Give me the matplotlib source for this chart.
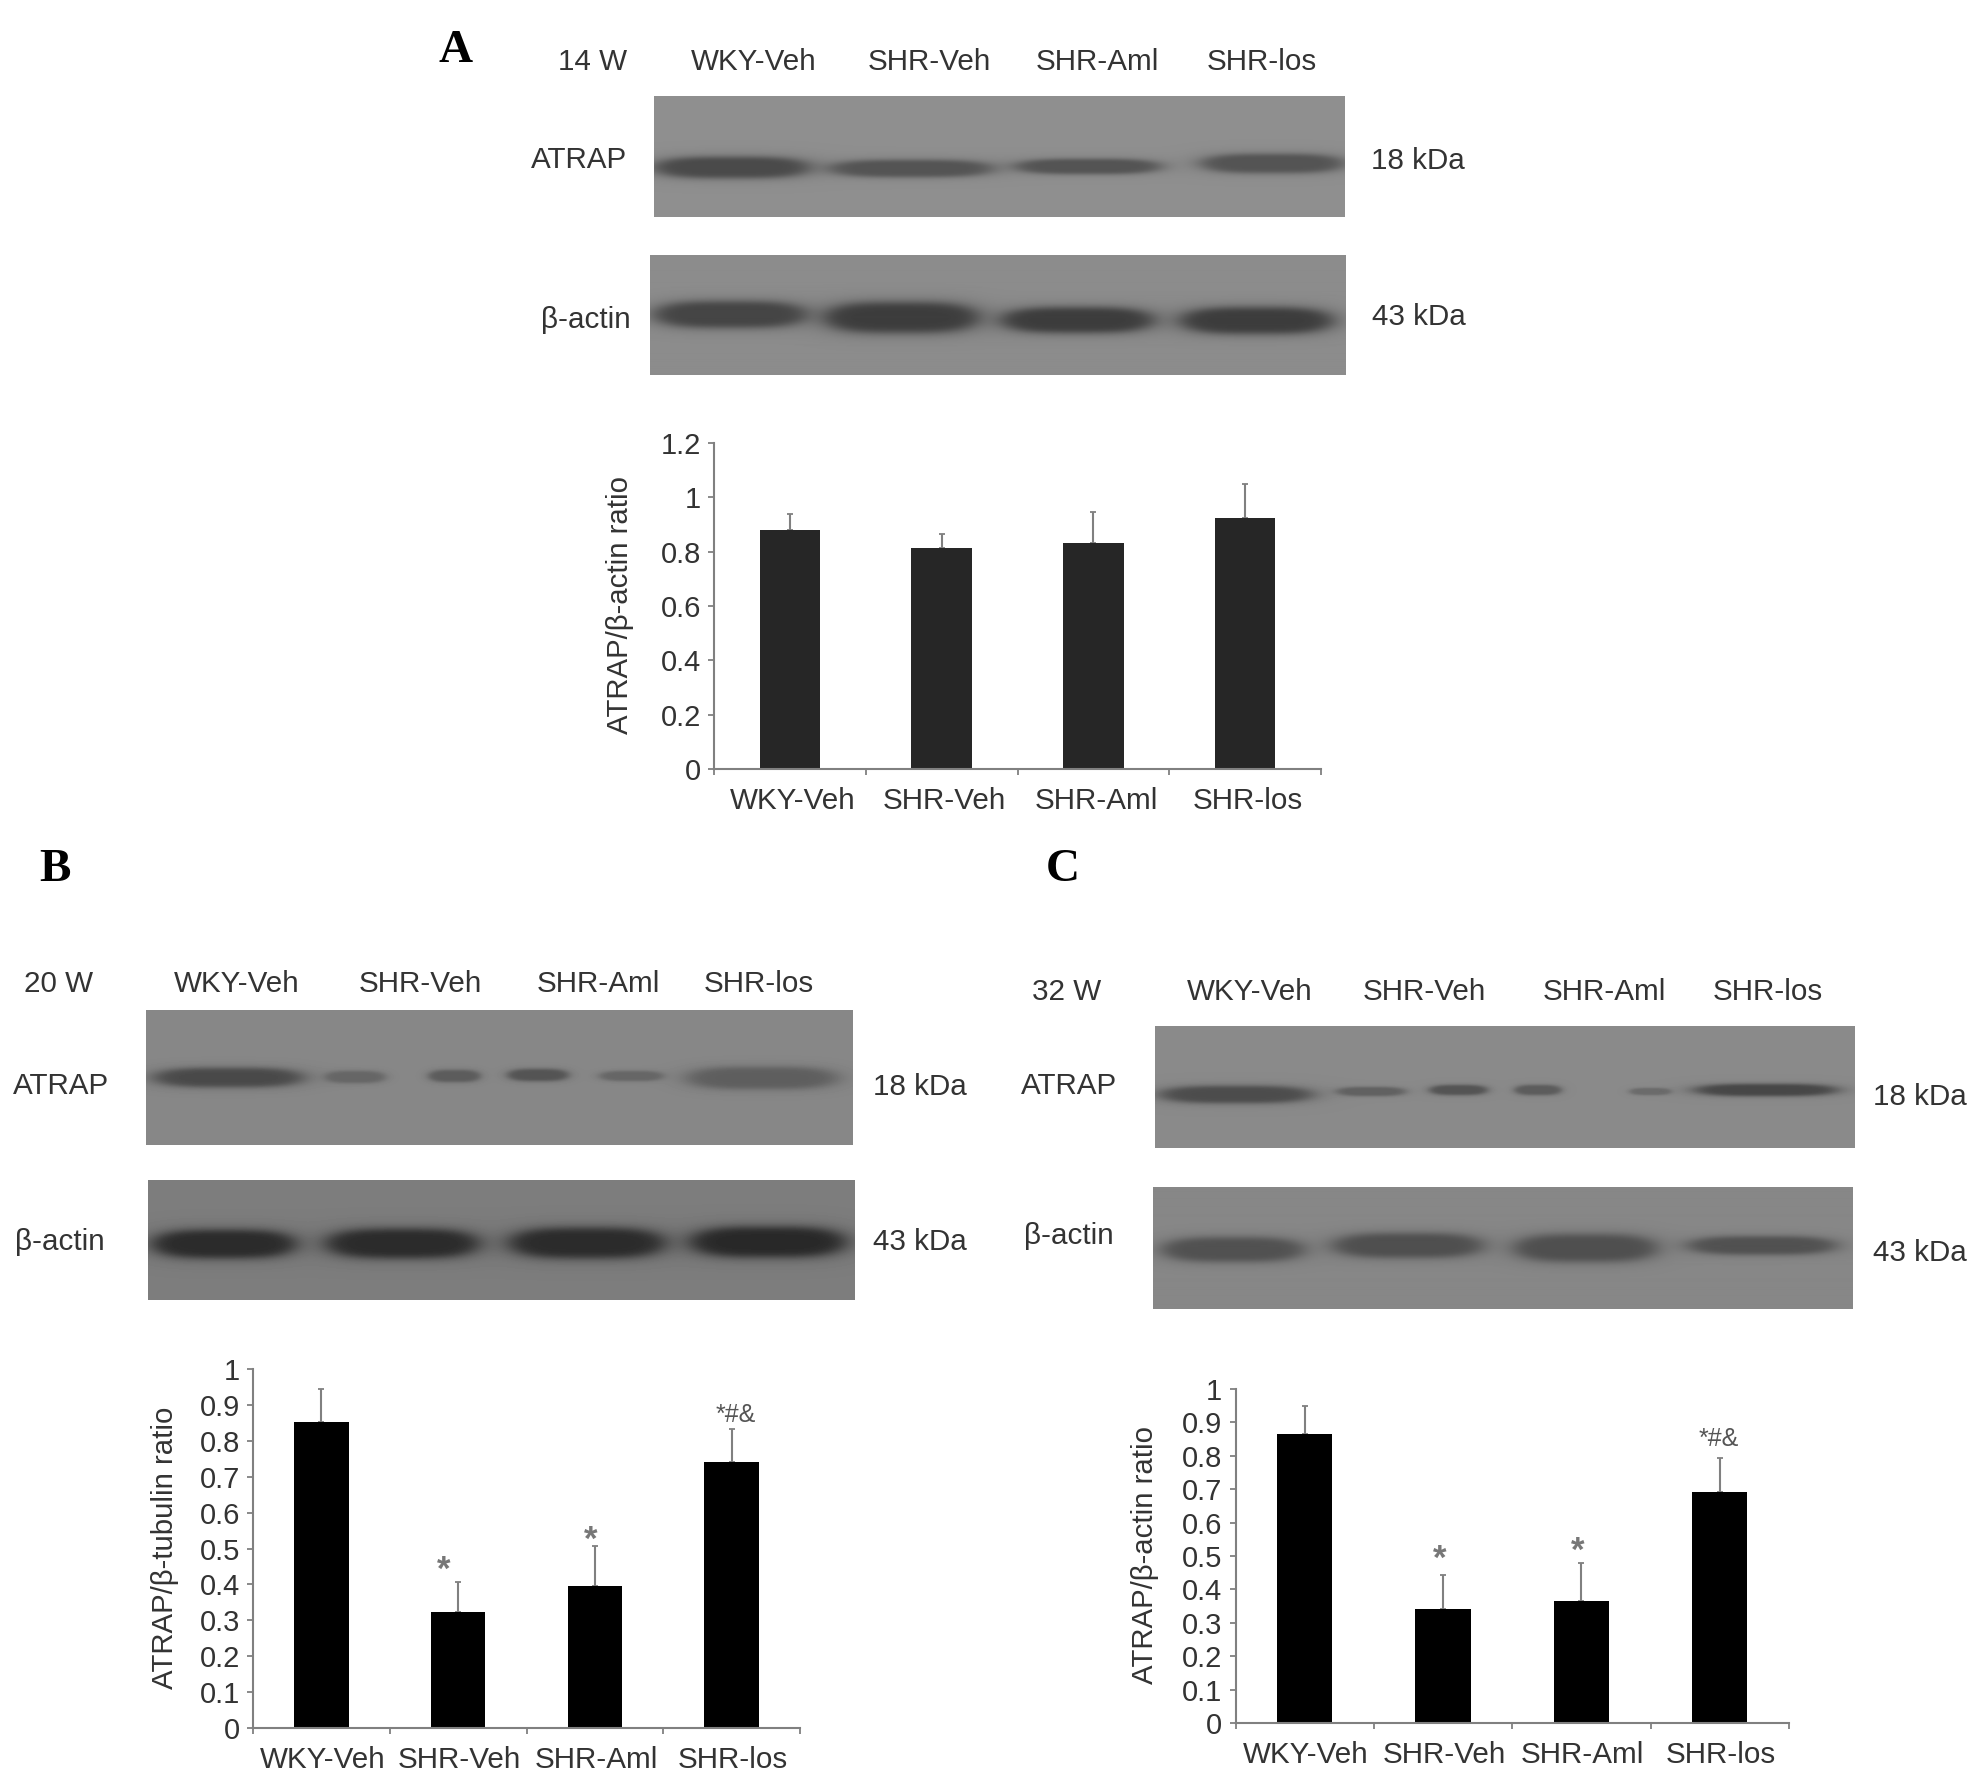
import numpy as np
import matplotlib
matplotlib.use("Agg")
import matplotlib.pyplot as plt
from matplotlib.transforms import ScaledTranslation

W, H = 1978, 1779
plt.rcParams['font.family'] = ['Liberation Sans', 'DejaVu Sans']

groups = ["WKY-Veh", "SHR-Veh", "SHR-Aml", "SHR-los"]

# bar values and upper error
ratio_a = [0.878, 0.813, 0.833, 0.924]
err_a = [0.062, 0.051, 0.112, 0.124]
ratio_b = [0.853, 0.323, 0.396, 0.741]
err_b = [0.092, 0.084, 0.111, 0.093]
ratio_c = [0.865, 0.342, 0.366, 0.691]
err_c = [0.085, 0.102, 0.112, 0.103]

ticks_a = [0, 0.2, 0.4, 0.6, 0.8, 1, 1.2]
ticks_bc = [0, 0.1, 0.2, 0.3, 0.4, 0.5, 0.6, 0.7, 0.8, 0.9, 1]
tick_text_a = ["0", "0.2", "0.4", "0.6", "0.8", "1", "1.2"]
tick_text_bc = ["0", "0.1", "0.2", "0.3", "0.4", "0.5", "0.6", "0.7", "0.8", "0.9", "1"]

# gel bands: x0, x1, y0, y1 (full size pixels), grey level
bands_a_atrap = [(655, 809, 157, 178, 0.29), (830, 992, 160, 177, 0.33),
                 (1016, 1160, 159, 174, 0.33), (1202, 1343, 154, 173, 0.33)]
bands_a_actin = [(655, 806, 302, 328, 0.27), (825, 978, 303, 333, 0.24),
                 (1002, 1153, 308, 333, 0.24), (1181, 1332, 308, 334, 0.24)]
bands_b_atrap = [(155, 302, 1068, 1087, 0.29), (325, 385, 1071, 1083, 0.40),
                 (429, 480, 1070, 1082, 0.36), (508, 568, 1069, 1081, 0.33),
                 (600, 663, 1071, 1081, 0.40), (688, 836, 1067, 1089, 0.37)]
bands_b_actin = [(153, 295, 1230, 1258, 0.17), (327, 478, 1229, 1258, 0.17),
                 (510, 664, 1228, 1258, 0.17), (691, 845, 1227, 1257, 0.16)]
bands_c_atrap = [(1161, 1311, 1086, 1103, 0.30), (1337, 1405, 1087, 1096, 0.38),
                 (1430, 1487, 1085, 1095, 0.33), (1515, 1561, 1085, 1095, 0.36),
                 (1630, 1671, 1088, 1095, 0.42), (1696, 1836, 1084, 1096, 0.28)]
bands_c_actin = [(1163, 1303, 1238, 1262, 0.32), (1334, 1482, 1234, 1258, 0.31),
                 (1515, 1656, 1235, 1262, 0.31), (1689, 1835, 1237, 1255, 0.32)]


def px_axes(fig, x0, y0, x1, y1):
    return fig.add_axes([x0 / W, 1 - y1 / H, (x1 - x0) / W, (y1 - y0) / H])


def label(fig, x, y, s, size=21.3, **kw):
    kw.setdefault("color", "#333333")
    if kw.get("rotation"):
        x, y = x + 2, y - 1
        size = 21.2
    else:
        y = y + 2
    fig.text(x / W, 1 - y / H, s, fontsize=size, ha="center", va="center", **kw)


def draw_blot(fig, box, bg, bands):
    x0, y0, x1, y1 = box
    ax = px_axes(fig, x0, y0, x1, y1)
    xx, yy = np.meshgrid(np.arange(x0, x1) + 0.5, np.arange(y0, y1) + 0.5)
    img = np.full(xx.shape, bg, dtype=float)
    for bx0, bx1, by0, by1, level in bands:
        cx, cy = (bx0 + bx1) / 2, (by0 + by1) / 2
        d = np.abs((xx - cx) / ((bx1 - bx0) / 2)) ** 3.5 + np.abs((yy - cy) / ((by1 - by0) / 2)) ** 2
        a = 1 / (1 + (d / 1.1) ** 3)
        img = img * (1 - a) + level * a
    ax.imshow(img, cmap="gray", vmin=0, vmax=1, aspect="auto", interpolation="bilinear")
    ax.axis("off")


def draw_bars(fig, box, values, errs, ticks, tick_text, color, label_dx=1.0):
    x0, y0, x1, y1 = box
    ax = px_axes(fig, x0, y0, x1, y1)
    pos = np.arange(len(groups))
    ax.bar(pos, values, width=0.4, color=color, zorder=2)
    ax.errorbar(pos, values, yerr=[np.zeros(len(errs)), errs], fmt="none", ecolor="#808080",
                elinewidth=1.5, capsize=2.3, capthick=1.3, zorder=1)
    ax.set_xlim(-0.5, len(groups) - 0.5)
    ax.set_ylim(0, ticks[-1])
    ax.set_yticks(ticks)
    ax.set_yticklabels(tick_text, fontsize=21, color="#333333")
    ax.set_xticks(np.arange(len(groups) + 1) - 0.5)
    ax.set_xticklabels([])
    ax.set_xticks(pos, minor=True)
    ax.set_xticklabels(groups, minor=True, fontsize=21.3, color="#333333")
    ax.tick_params(axis="x", which="minor", length=0, pad=12.7)
    ax.tick_params(axis="both", which="major", length=4.5, width=1.3, color="#808080")
    ax.tick_params(axis="y", pad=5)
    # the group names sit a little right of the bar centres
    shift = ScaledTranslation(label_dx / 100, 0, fig.dpi_scale_trans)
    for t in ax.get_xticklabels(minor=True):
        t.set_transform(t.get_transform() + shift)
    for side in ["top", "right"]:
        ax.spines[side].set_visible(False)
    for side in ["left", "bottom"]:
        ax.spines[side].set_color("#808080")
        ax.spines[side].set_linewidth(1.5)
    ax.patch.set_alpha(0)
    return ax


fig = plt.figure(figsize=(W / 100, H / 100), dpi=100)
letter = dict(size=34, family="Liberation Serif", weight="bold", color="black")
star = dict(size=25, color="#777777", weight="bold")

# Panel A
draw_blot(fig, (654, 96, 1345, 217), 0.56, bands_a_atrap)
draw_blot(fig, (650, 255, 1346, 375), 0.55, bands_a_actin)
draw_bars(fig, (714, 443, 1321, 769), ratio_a, err_a, ticks_a, tick_text_a, "#262626", label_dx=3.0)
label(fig, 456, 49, "A", **letter)
label(fig, 593, 60, "14 W")
for x, g in zip([754, 929.5, 1097, 1262], groups):
    label(fig, x, 60, g)
label(fig, 579, 158, "ATRAP")
label(fig, 586, 318, "β-actin")
label(fig, 1418, 159, "18 kDa")
label(fig, 1419, 315, "43 kDa")
label(fig, 618, 606, "ATRAP/β-actin ratio", rotation=90)

# Panel B
draw_blot(fig, (146, 1010, 853, 1145), 0.53, bands_b_atrap)
draw_blot(fig, (148, 1180, 855, 1300), 0.49, bands_b_actin)
draw_bars(fig, (253, 1369, 800, 1728), ratio_b, err_b, ticks_bc, tick_text_bc, "black", label_dx=1.5)
label(fig, 55.5, 868, "B", **letter)
label(fig, 59, 982, "20 W")
for x, g in zip([237, 420, 598, 759], groups):
    label(fig, x, 982, g)
label(fig, 61, 1084, "ATRAP")
label(fig, 60, 1240, "β-actin")
label(fig, 920, 1085, "18 kDa")
label(fig, 920, 1240, "43 kDa")
label(fig, 163, 1549, "ATRAP/β-tubulin ratio", rotation=90)
label(fig, 444, 1568, "*", **star)
label(fig, 591, 1538, "*", **star)
label(fig, 736, 1413, "*#&", size=18, color="#555555")

# Panel C
draw_blot(fig, (1155, 1026, 1855, 1148), 0.54, bands_c_atrap)
draw_blot(fig, (1153, 1187, 1853, 1309), 0.53, bands_c_actin)
draw_bars(fig, (1235.5, 1389, 1789, 1723), ratio_c, err_c, ticks_bc, tick_text_bc, "black", label_dx=1.0)
label(fig, 1063, 868, "C", **letter)
label(fig, 1067, 990, "32 W")
for x, g in zip([1249.5, 1424, 1604, 1768], groups):
    label(fig, x, 990, g)
label(fig, 1069, 1084, "ATRAP")
label(fig, 1069, 1234, "β-actin")
label(fig, 1920, 1095, "18 kDa")
label(fig, 1920, 1251, "43 kDa")
label(fig, 1143, 1556, "ATRAP/β-actin ratio", rotation=90)
label(fig, 1440, 1557, "*", **star)
label(fig, 1578, 1549, "*", **star)
label(fig, 1719, 1437, "*#&", size=18, color="#555555")

fig.savefig("out.png", dpi=100, facecolor="white")
